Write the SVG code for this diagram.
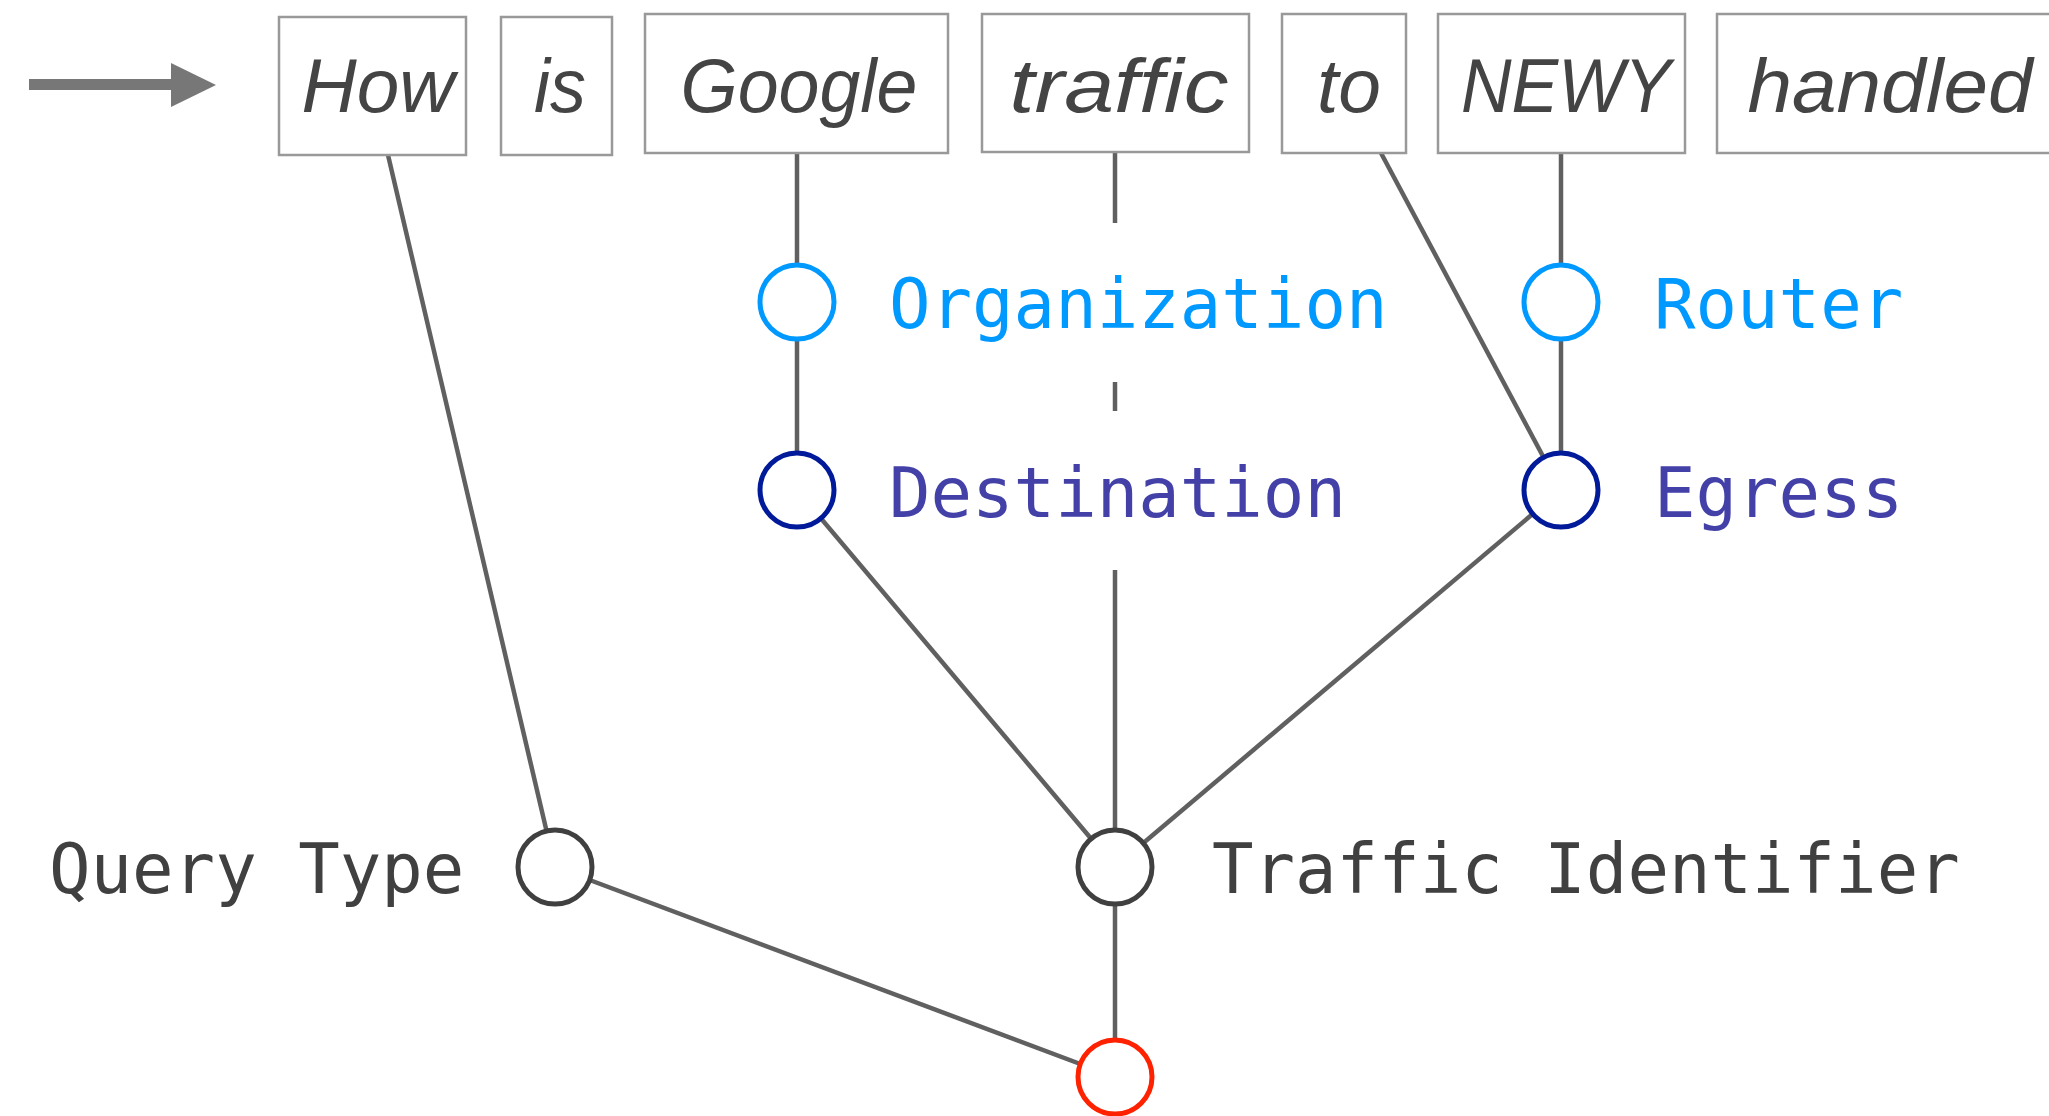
<svg xmlns="http://www.w3.org/2000/svg" width="2049" height="1116" viewBox="0 0 2049 1116">
  <style>
    .word rect { fill: #ffffff; stroke: #999999; stroke-width: 2.5; }
    .word text { font-family: "Liberation Sans", Arial, sans-serif; font-style: italic; font-size: 76px; fill: #444444; text-anchor: middle; }
    .conn line { stroke: #606060; stroke-width: 4.5; fill: none; }
    .node circle { fill: #ffffff; stroke-width: 5; }
    .node text { font-family: "DejaVu Sans Mono", monospace; font-size: 69px; }
    .org circle { stroke: #0099ff; }
    .org text { fill: #0099ff; }
    .dest circle { stroke: #001a99; }
    .dest text { fill: #4341a8; }
    .plain circle { stroke: #404040; }
    .plain text { fill: #404040; }
    .root circle { stroke: #ff2200; }
  </style>
  <rect x="0" y="0" width="2049" height="1116" fill="#ffffff"/>

  <g id="arrow" fill="#777777">
    <rect x="29" y="79" width="143" height="11"/>
    <polygon points="171,63 216,85 171,107"/>
  </g>

  <g id="connectors" class="conn">
    <line x1="388" y1="155" x2="555" y2="867"/>
    <line x1="797" y1="153" x2="797" y2="302"/>
    <line x1="797" y1="302" x2="797" y2="490"/>
    <line x1="1115" y1="153" x2="1115" y2="223"/>
    <line x1="1115" y1="382" x2="1115" y2="411"/>
    <line x1="1115" y1="570" x2="1115" y2="867"/>
    <line x1="1381" y1="153" x2="1561" y2="490"/>
    <line x1="1561" y1="153" x2="1561" y2="302"/>
    <line x1="1561" y1="302" x2="1561" y2="490"/>
    <line x1="797" y1="490" x2="1115" y2="867"/>
    <line x1="1561" y1="490" x2="1115" y2="867"/>
    <line x1="1115" y1="867" x2="1115" y2="1077"/>
    <line x1="555" y1="867" x2="1115" y2="1077"/>
  </g>

  <g id="w-how" class="word"><rect x="279" y="17" width="187" height="138"/><text x="378" y="112" textLength="153" lengthAdjust="spacingAndGlyphs">How</text></g>
  <g id="w-is" class="word"><rect x="501" y="17" width="111" height="138"/><text x="560" y="112" textLength="52" lengthAdjust="spacingAndGlyphs">is</text></g>
  <g id="w-google" class="word"><rect x="645" y="14" width="303" height="139"/><text x="799" y="112" textLength="237" lengthAdjust="spacingAndGlyphs">Google</text></g>
  <g id="w-traffic" class="word"><rect x="982" y="14" width="267" height="138"/><text x="1119" y="112" textLength="219" lengthAdjust="spacingAndGlyphs">traffic</text></g>
  <g id="w-to" class="word"><rect x="1282" y="14" width="124" height="139"/><text x="1349" y="112" textLength="64" lengthAdjust="spacingAndGlyphs">to</text></g>
  <g id="w-newy" class="word"><rect x="1438" y="14" width="247" height="139"/><text x="1566" y="112" textLength="210" lengthAdjust="spacingAndGlyphs">NEWY</text></g>
  <g id="w-handled" class="word"><rect x="1717" y="14" width="340" height="139"/><text x="1890" y="112" textLength="285" lengthAdjust="spacingAndGlyphs">handled</text></g>

  <g id="n-organization" class="node org"><circle cx="797" cy="302" r="37"/><text x="889" y="328">Organization</text></g>
  <g id="n-router" class="node org"><circle cx="1561" cy="302" r="37"/><text x="1654" y="328">Router</text></g>
  <g id="n-destination" class="node dest"><circle cx="797" cy="490" r="37"/><text x="889" y="517">Destination</text></g>
  <g id="n-egress" class="node dest"><circle cx="1561" cy="490" r="37"/><text x="1654" y="517">Egress</text></g>
  <g id="n-querytype" class="node plain"><circle cx="555" cy="867" r="37"/><text x="49" y="893">Query Type</text></g>
  <g id="n-trafficid" class="node plain"><circle cx="1115" cy="867" r="37"/><text x="1212" y="893">Traffic Identifier</text></g>
  <g id="n-root" class="node root"><circle cx="1115" cy="1077" r="37"/></g>
</svg>
